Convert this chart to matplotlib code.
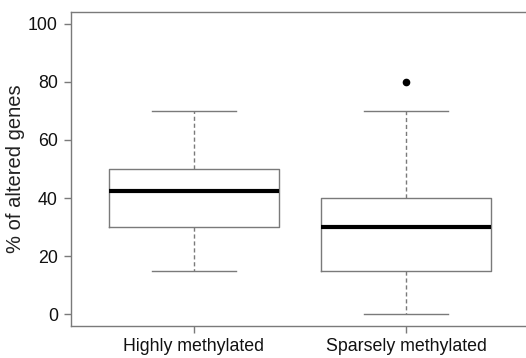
import matplotlib
matplotlib.use("Agg")
import matplotlib.pyplot as plt

plt.rcParams['font.family'] = ['Liberation Sans', 'DejaVu Sans']

# box statistics
groups = ["Highly methylated", "Sparsely methylated"]
medians = [42.5, 30]
q1 = [30, 15]
q3 = [50, 40]
whisk_lo = [15, 0]
whisk_hi = [70, 70]
outliers = [[], [80]]
yticks = [0, 20, 40, 60, 80, 100]

stats = []
for i, g in enumerate(groups):
    stats.append(dict(label=g, med=medians[i], q1=q1[i], q3=q3[i],
                      whislo=whisk_lo[i], whishi=whisk_hi[i], fliers=outliers[i]))

fig = plt.figure(figsize=(5.26, 3.58), dpi=100)
ax = fig.add_axes([71/526, 1 - 326/358, 458/526, 314/358])

grey = '#7a7a7a'
ax.bxp(stats, positions=[1, 2], widths=0.8, showfliers=True,
       boxprops=dict(color=grey, linewidth=1.0),
       whiskerprops=dict(color=grey, linewidth=1.0, linestyle=(0, (3, 2))),
       capprops=dict(color=grey, linewidth=1.0),
       medianprops=dict(color='black', linewidth=3.0, solid_capstyle='butt'),
       flierprops=dict(marker='o', markerfacecolor='black', markeredgecolor='black',
                       markersize=4.5, linestyle='none'))

ax.set_xlim(0.42, 2.58)
ax.set_ylim(-4, 104)
ax.set_yticks(yticks)
ax.set_xticks([1, 2])
ax.set_xticklabels(groups)
ax.set_ylabel("% of altered genes", fontsize=14.5, color='#222222', labelpad=2)

for s in ax.spines.values():
    s.set_color(grey)
    s.set_linewidth(1.0)
ax.tick_params(axis='both', colors=grey, length=5, width=1.0, labelsize=12.8,
               labelcolor='#111111')
ax.tick_params(axis='y', pad=4.5)
ax.tick_params(axis='x', pad=3.5)

fig.savefig("out.png", dpi=100)
